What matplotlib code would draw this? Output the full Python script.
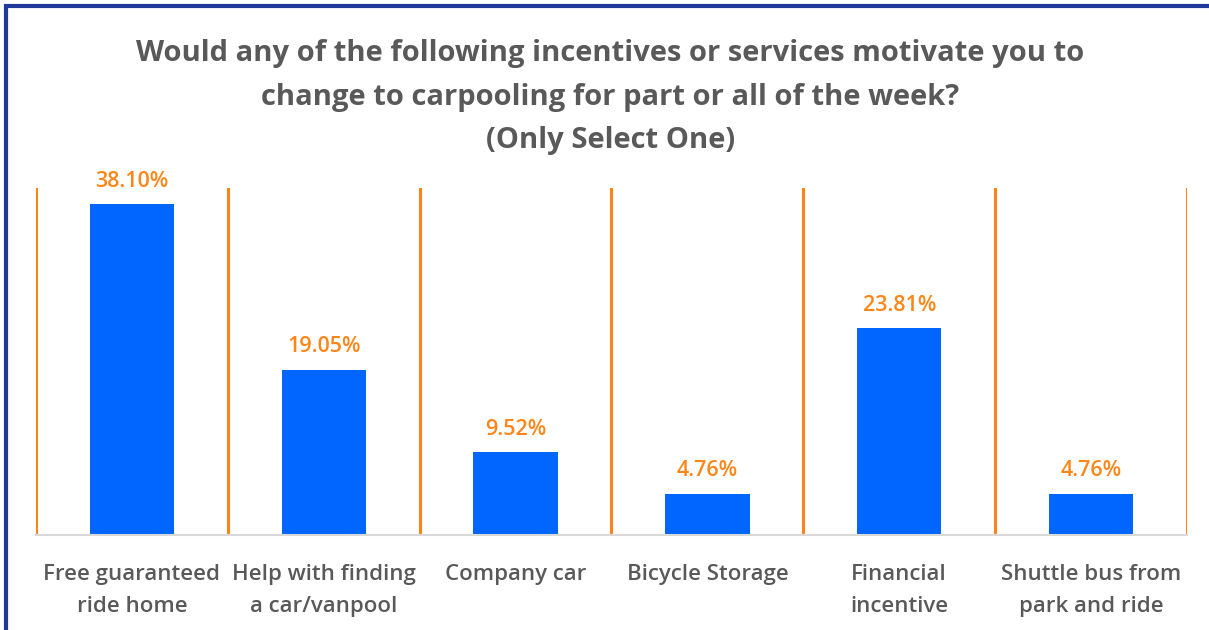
import matplotlib
matplotlib.use("Agg")
import matplotlib.pyplot as plt
from matplotlib.patches import Rectangle

categories = [
    "Free guaranteed\nride home",
    "Help with finding\na car/vanpool",
    "Company car",
    "Bicycle Storage",
    "Financial\nincentive",
    "Shuttle bus from\npark and ride",
]
values = [38.10, 19.05, 9.52, 4.76, 23.81, 4.76]

title = ("Would any of the following incentives or services motivate you to\n"
         "change to carpooling for part or all of the week?\n"
         "(Only Select One)")

plt.rcParams['font.family'] = ['Open Sans', 'DejaVu Sans']

gray = '#595959'
orange = '#FF8517'
blue = '#0066FF'

fig = plt.figure(figsize=(12.09, 6.30), dpi=100)
ax = fig.add_axes([36 / 1209, 95 / 630, 1151 / 1209, 347 / 630])

x = range(len(categories))
bars = ax.bar(x, values, width=0.44, color=blue, zorder=2)

# orange separators between categories
for b in range(len(categories) + 1):
    ax.axvline(b - 0.5, color=orange, lw=2.2, zorder=1)

for rect, v in zip(bars, values):
    ax.annotate(f"{v:.2f}%", (rect.get_x() + rect.get_width() / 2, v),
                xytext=(0, 9), textcoords='offset points',
                ha='center', va='bottom', color=orange, fontsize=15.5,
                fontweight='semibold')

ax.set_xlim(-0.5, len(categories) - 0.5)
ax.set_ylim(0, 40)
ax.set_xticks(list(x))
ax.set_xticklabels(categories, color=gray, fontsize=16, fontweight='semibold',
                   linespacing=1.65)
ax.tick_params(axis='x', length=0, pad=21)
ax.set_yticks([])
for s in ['top', 'left', 'right']:
    ax.spines[s].set_visible(False)
ax.spines['bottom'].set_color('#D9D9D9')
ax.spines['bottom'].set_linewidth(1.5)

fig.text(0.505, 0.938, title, ha='center', va='top', color=gray,
         fontsize=21, fontweight='bold', linespacing=1.66)

# frame around the chart, open on the right and bottom
fig.add_artist(Rectangle((6 / 1209, -0.1), 1.2, 1.1 - 6.5 / 630,
                         transform=fig.transFigure, fill=False,
                         edgecolor='#1F3A9A', lw=3))

fig.savefig("out.png", dpi=100)
